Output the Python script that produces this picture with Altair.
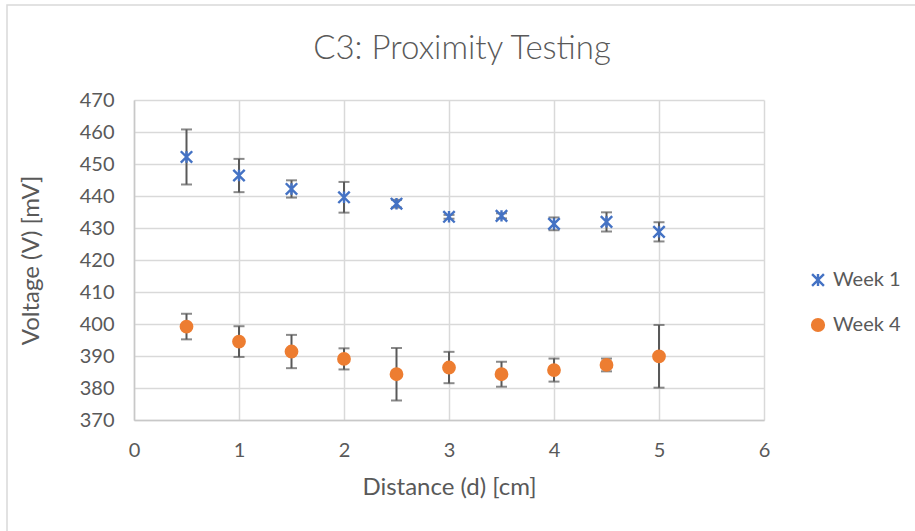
import altair as alt
import pandas as pd

distance = [0.5, 1.0, 1.5, 2.0, 2.5, 3.0, 3.5, 4.0, 4.5, 5.0]
week1 = [452.2, 446.4, 442.2, 439.6, 437.6, 433.5, 433.8, 431.3, 431.9, 428.8]
week1_err = [8.6, 5.2, 2.7, 4.8, 1.2, 0.6, 0.8, 2.0, 3.0, 3.0]
week4 = [399.2, 394.5, 391.4, 389.1, 384.3, 386.4, 384.3, 385.6, 387.2, 389.9]
week4_err = [4.0, 4.8, 5.2, 3.3, 8.2, 4.9, 3.9, 3.6, 2.0, 9.8]
series_names = ["Week 1", "Week 4"]
colors = ["#4472C4", "#ED7D31"]
x_ticks = [0, 1, 2, 3, 4, 5, 6]
y_ticks = [370, 380, 390, 400, 410, 420, 430, 440, 450, 460, 470]

rows = []
for name, vals, errs in [("Week 1", week1, week1_err), ("Week 4", week4, week4_err)]:
    for d, v, e in zip(distance, vals, errs):
        rows.append({"series": name, "d": d, "v": v, "lo": v - e, "hi": v + e})
df = pd.DataFrame(rows)

FONT = "Lato"
GRAY = "#595959"

xscale = alt.Scale(domain=[0, 6], nice=False)
yscale = alt.Scale(domain=[370, 470], nice=False, zero=False)
xaxis = alt.Axis(values=x_ticks, format="d", title="Distance (d) [cm]")
yaxis = alt.Axis(values=y_ticks, format="d", title="Voltage (V) [mV]")


def X(field):
    return alt.X(field, scale=xscale, axis=xaxis)


def Y(field):
    return alt.Y(field, scale=yscale, axis=yaxis)


base = alt.Chart(df)

bars = base.mark_rule(color=GRAY, strokeWidth=2).encode(
    x=X("d:Q"), y=Y("lo:Q"), y2="hi:Q"
)
caps_lo = base.mark_tick(color=GRAY, thickness=2, size=11, orient="horizontal").encode(
    x=X("d:Q"), y=Y("lo:Q"))
caps_hi = base.mark_tick(color=GRAY, thickness=2, size=11, orient="horizontal").encode(
    x=X("d:Q"), y=Y("hi:Q"))

star = "M-1,-1L1,1M-1,1L1,-1M0,-1L0,1"
points = base.mark_point(strokeWidth=2.4, opacity=1, size=130).encode(
    x=X("d:Q"),
    y=Y("v:Q"),
    stroke=alt.Stroke("series:N", scale=alt.Scale(domain=series_names, range=colors),
                      legend=alt.Legend(title=None)),
    fill=alt.Fill("series:N", scale=alt.Scale(domain=series_names, range=["transparent", colors[1]]),
                  legend=alt.Legend(title=None)),
    shape=alt.Shape("series:N", scale=alt.Scale(domain=series_names, range=[star, "circle"]),
                    legend=alt.Legend(title=None)),
)

border = alt.Chart(pd.DataFrame({"a": [0]})).mark_rect(
    fill="transparent", stroke="#d9d9d9", strokeWidth=1.5
).encode(
    x=alt.value(-127), x2=alt.value(790), y=alt.value(-95), y2=alt.value(440)
)

chart = alt.layer(border, bars, caps_lo, caps_hi, points).properties(
    width=630,
    height=320,
    title=alt.TitleParams("C3: Proximity Testing", fontSize=33, font=FONT,
                          fontWeight=300, color=GRAY, anchor="middle", offset=-62, dx=13),
    autosize=alt.AutoSizeParams(type="none"),
    padding={"left": 134, "top": 100, "right": 151, "bottom": 111},
).configure_view(stroke=None).configure_axis(
    grid=True, gridColor="#d9d9d9", gridWidth=1.5, domain=True, domainColor="#c8c8c8",
    domainWidth=1.5, ticks=False, labelFlush=False,
    labelFont=FONT, labelFontSize=20, labelColor=GRAY,
    titleFont=FONT, titleFontSize=24, titleColor=GRAY, titleFontWeight="normal",
).configure_axisX(labelPadding=20, titlePadding=15).configure_axisY(
    labelPadding=20, titlePadding=36
).configure_legend(
    orient="none", legendX=674, legendY=170, labelFont=FONT, labelFontSize=20,
    labelColor=GRAY, rowPadding=23, symbolSize=140, symbolStrokeWidth=2.4, labelOffset=5
)

chart.save("out.html", embed_options={"renderer": "svg", "actions": False})
